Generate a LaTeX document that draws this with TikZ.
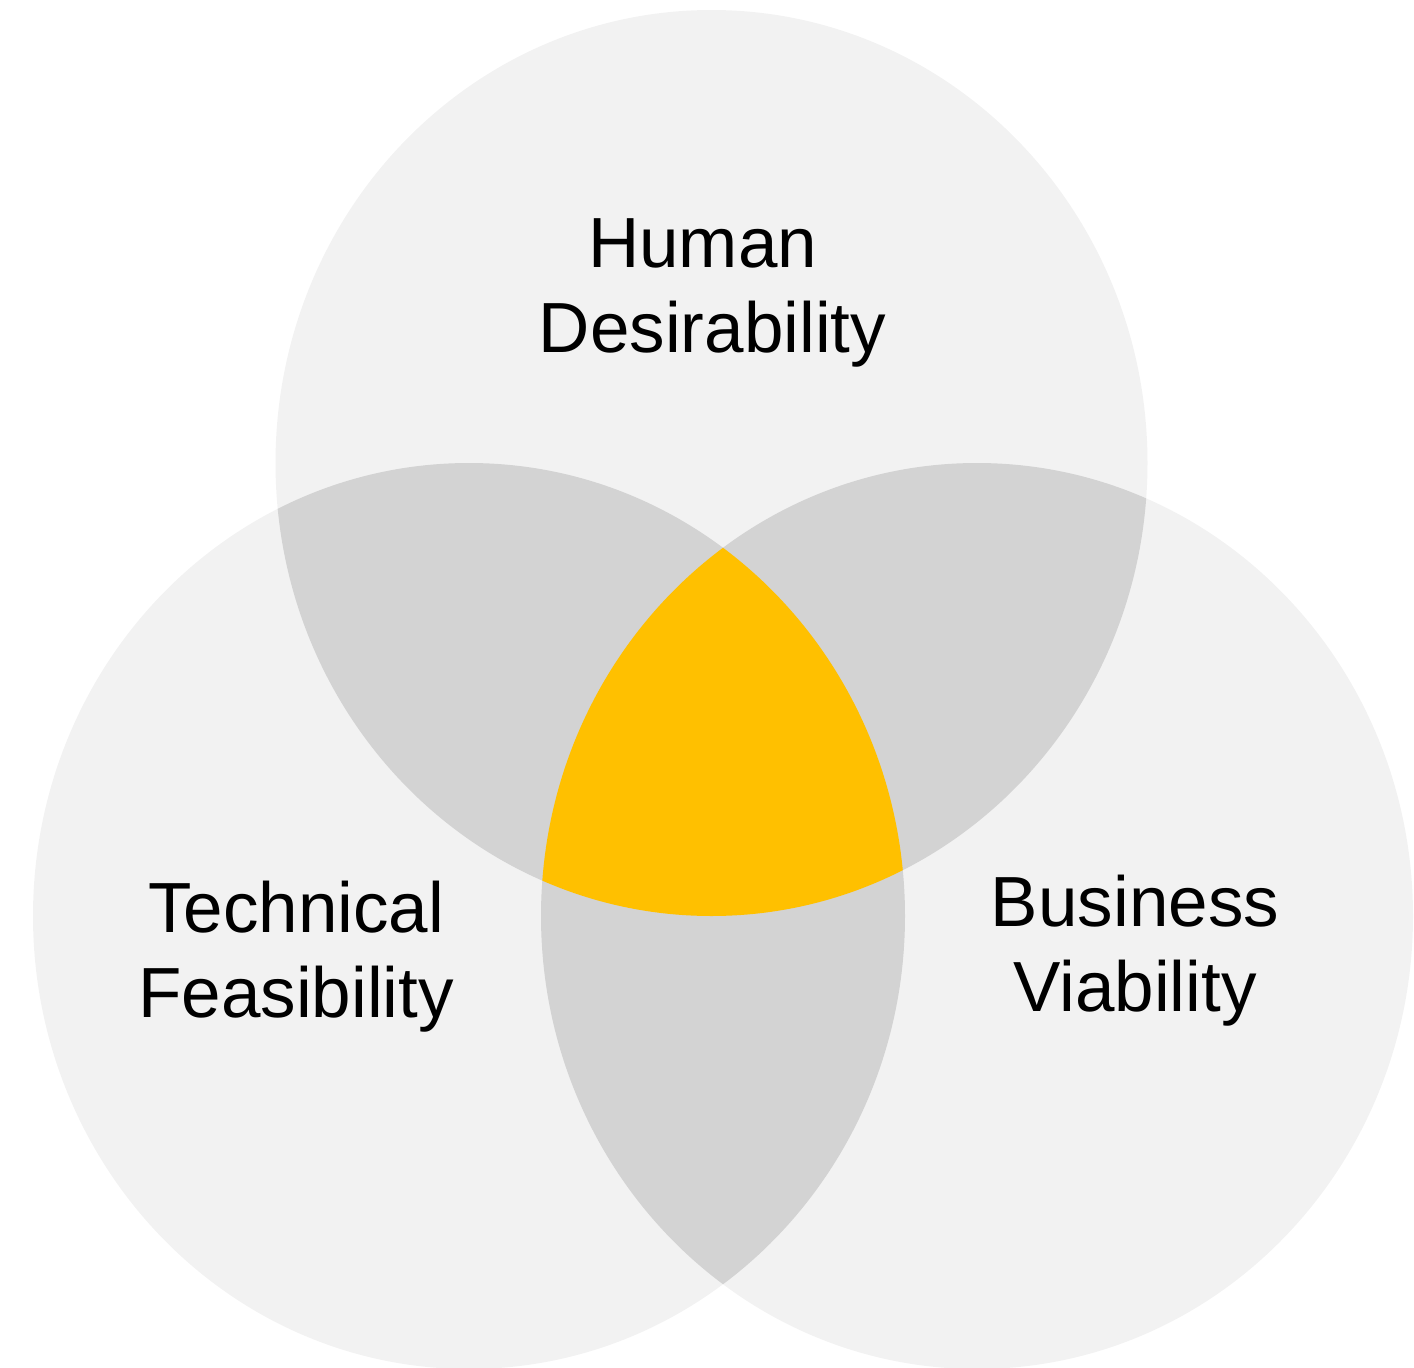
\documentclass[tikz,border=0pt]{standalone}
\usepackage{fontspec}
\setmainfont{Liberation Sans}
\definecolor{light}{HTML}{F2F2F2}
\definecolor{overlap}{HTML}{D3D3D3}
\definecolor{gold}{HTML}{FFC000}
\begin{document}
\begin{tikzpicture}[x=1pt,y=1pt,
  setlabel/.style={font=\fontsize{71}{85}\selectfont, align=center, text=black, inner sep=0pt}]
\useasboundingbox (0,0) rectangle (1414,-1368);
% base circles
\fill[light] (711.5,-463) ellipse [x radius=436, y radius=453];
\fill[light] (469,-916) ellipse [x radius=436, y radius=453];
\fill[light] (977,-916) ellipse [x radius=436, y radius=453];
% left/right lens
\begin{scope}
  \clip (469,-916) ellipse [x radius=436, y radius=453];
  \fill[overlap] (977,-916) ellipse [x radius=436, y radius=453];
\end{scope}
% top overlaps and centre
\begin{scope}
  \clip (711.5,-463) ellipse [x radius=436, y radius=453];
  \fill[overlap] (469,-916) ellipse [x radius=436, y radius=453];
  \fill[overlap] (977,-916) ellipse [x radius=436, y radius=453];
  \clip (469,-916) ellipse [x radius=436, y radius=453];
  \fill[gold] (977,-916) ellipse [x radius=436, y radius=453];
\end{scope}
% labels
\node[setlabel] (hd) at (712.5,-292.5) {Human\rule{0.278em}{0pt}\\Desirability};
\node[setlabel] (tf) at (296,-956.5) {Technical\\Feasibility};
\node[setlabel] (bv) at (1135,-950.5) {Business\\Viability};
\end{tikzpicture}
\end{document}
